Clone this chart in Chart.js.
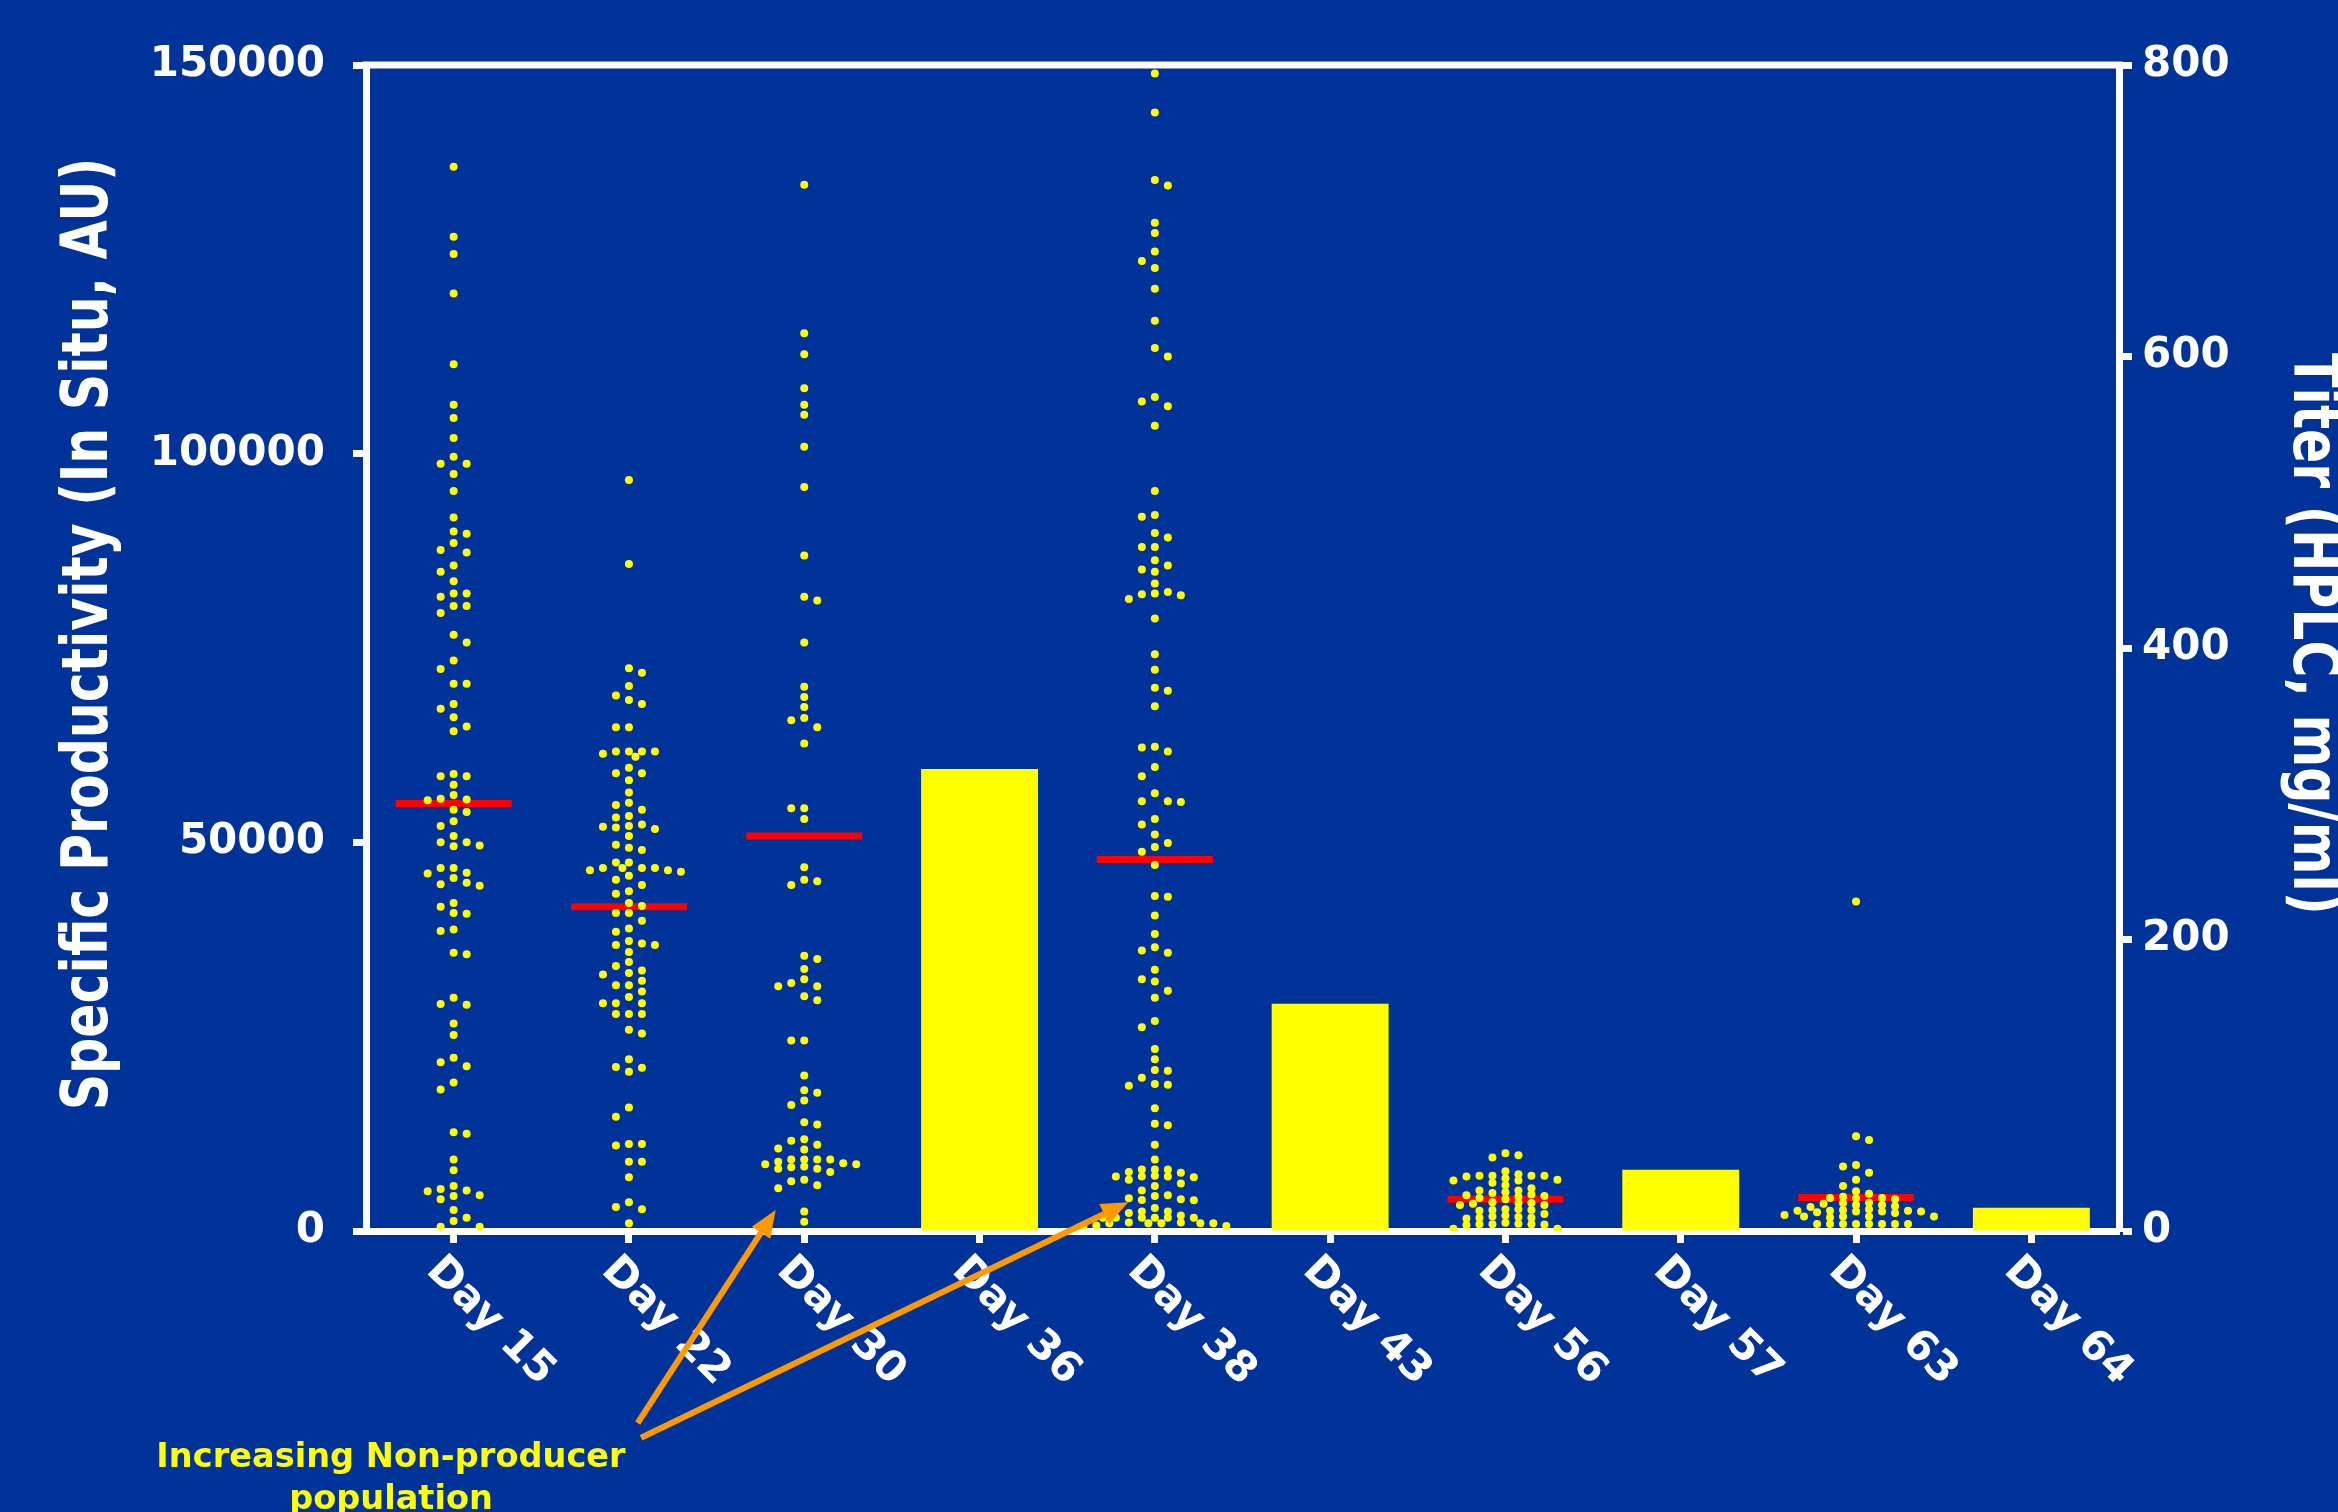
<!DOCTYPE html>
<html>
<head>
<meta charset="utf-8">
<title>Specific productivity and titer by culture day</title>
<script src="https://cdn.jsdelivr.net/npm/chart.js@4.4.1/dist/chart.umd.min.js"></script>
<style>
  html, body { margin: 0; padding: 0; background: #003399; }
  #wrap { width: 2338px; height: 1512px; }
</style>
</head>
<body>
<div id="wrap"><canvas id="chart" width="2338" height="1512"></canvas></div>
<script>
// ---- categories and tick labels ----
const days = ['Day 15', 'Day 22', 'Day 30', 'Day 36', 'Day 38', 'Day 43', 'Day 56', 'Day 57', 'Day 63', 'Day 64'];
const leftTicks = [0, 50000, 100000, 150000];
const rightTicks = [0, 200, 400, 600, 800];

// ---- titer by HPLC (mg/ml), measured on the bar days ----
const titer = [null, null, null, 317, null, 156, null, 42, null, 16];

// ---- specific productivity of single cells (in situ, AU) ----
const day15 = [136900, 127900, 125700, 120600, 111500, 106300, 104600, 102000, 99600, 98700,
  98700, 97400, 95200, 91800, 90000, 89700, 88500, 87600, 87300, 85600,
  84800, 83600, 82000, 82000, 81600, 80400, 80400, 79500, 76700, 75700,
  73400, 72300, 70400, 70400, 67800, 67200, 66100, 64900, 64300, 58800,
  58500, 58500, 57400, 56100, 55600, 55500, 55400, 54200, 53900, 52700,
  52100, 50800, 50000, 50000, 49600, 49500, 46700, 46700, 46100, 46000,
  45400, 44800, 44600, 44400, 42200, 41700, 40900, 40800, 38800, 38600,
  35800, 35600, 30000, 29200, 29100, 26700, 25200, 22300, 21700, 21200,
  19100, 18200, 12700, 12500, 9200, 7800, 5800, 5400, 5200, 5100,
  4600, 4500, 4100, 2700, 1700, 1300, 550, 550];

const day22 = [96600, 85800, 72400, 71800, 70100, 68900, 68300, 67800, 64800, 64800,
  61700, 61700, 61700, 61700, 61400, 61000, 59600, 58900, 58900, 58000,
  56400, 55100, 54800, 54200, 53400, 53200, 52300, 52100, 52000, 51900,
  51700, 50800, 49700, 49300, 49000, 47400, 47400, 46700, 46700, 46700,
  46700, 46400, 46400, 46200, 45700, 45200, 44500, 43700, 43400, 42200,
  41800, 40900, 40900, 39900, 38900, 38500, 37300, 37000, 36800, 36800,
  35900, 34600, 34100, 33500, 33200, 33000, 32200, 31600, 31600, 30800,
  30100, 29300, 29300, 29300, 27900, 27900, 27900, 25900, 25400, 22100,
  21100, 21000, 20500, 15900, 14700, 11200, 11200, 11000, 8900, 8900,
  6900, 3700, 3100, 2800, 1000];

const day30 = [134600, 115500, 112800, 108400, 106300, 105000, 100900, 95700, 86900, 81600,
  81100, 75700, 70000, 68700, 67400, 66000, 65700, 64800, 62700, 54400,
  54400, 53000, 46800, 45200, 45000, 44500, 35400, 35000, 33700, 32400,
  31900, 31500, 31500, 30200, 29700, 24500, 24500, 20000, 18100, 17800,
  16800, 16200, 14000, 13700, 11800, 11600, 11100, 10600, 10500, 9200,
  9200, 9200, 9200, 8900, 8700, 8600, 8600, 8300, 8200, 8000,
  8000, 7600, 6600, 6400, 5900, 5500, 2500, 1200];

const day38 = [148900, 143900, 135200, 134500, 129700, 128400, 126000, 124800, 123900, 121200,
  117100, 113600, 112500, 107300, 106700, 106100, 103600, 95200, 92100, 91900,
  89800, 89200, 88000, 88000, 86300, 85600, 85100, 84800, 83300, 82200,
  82000, 81900, 81800, 81300, 78800, 74200, 72200, 69900, 69500, 67500,
  62300, 62200, 61700, 59700, 58500, 56300, 55300, 55300, 55200, 53000,
  52300, 51000, 49900, 49400, 48800, 47100, 43100, 43000, 40600, 38200,
  36500, 36100, 35800, 33600, 32400, 32100, 30900, 30000, 27000, 26200,
  23400, 22100, 20700, 20600, 19700, 18900, 18800, 18700, 15800, 13800,
  13600, 11100, 9200, 7900, 7900, 7900, 7600, 7500, 7100, 7000,
  7000, 7000, 6900, 6600, 6100, 5800, 5200, 4600, 4500, 4200,
  4100, 4000, 3950, 2950, 2500, 2500, 2300, 2000, 1700, 1700,
  1700, 1700, 1700, 1700, 1100, 1100, 1000, 1000, 1000, 1000,
  1000, 700, 650, 650];

const day56 = [10000, 9750, 9450, 7700, 7300, 7100, 7100, 7100, 7100, 7000,
  6800, 6600, 6500, 6500, 6200, 5900, 5500, 5200, 5200, 5000,
  4900, 4700, 4600, 4500, 4400, 4250, 4100, 3700, 3600, 3600,
  3500, 3350, 3350, 2800, 2800, 2700, 2700, 2600, 2200, 2000,
  1850, 1800, 1700, 1700, 1600, 1070, 940, 860, 860, 860,
  850, 770, 300, 300];

const day63 = [42400, 12200, 11700, 8500, 8300, 7500, 6600, 5800, 5100, 4800,
  4400, 4250, 4250, 4200, 4100, 3650, 3600, 3500, 3350, 3350,
  3200, 3100, 2800, 2700, 2600, 2600, 2600, 2500, 2500, 2500,
  2400, 2300, 2050, 1850, 1850, 1850, 1850, 1750, 900, 900,
  900, 900, 900, 900, 900, 900];

// cell clouds in category order (null where only titer was measured)
const cellsByDay = [day15, day22, day30, null, day38, null, day56, null, day63, null];

// level of the red bar through each cloud
const summaryLevel = [55000, 41700, 50800, null, 47800, null, 4100, null, 4300, null];

// "non-producer" callout: arrow tails and tips as [category position, AU]
const arrowTails = [[1.05, -24700], [1.069, -26600]];
const arrowTips = [[1.837, 2700], [3.849, 3700]];
const calloutLines = ['Increasing Non-producer', 'population'];

// ---- frame geometry ----
const PLOT = { left: 366, right: 2119, top: 65, bottom: 1231 };
const W = 2338, H = 1512;
const SLOT_PX = 13;        // horizontal step between neighbouring dot columns
const LOOSE_GAP_PX = 10;   // vertical clearance in the roomy inner columns
const TIGHT_GAP_PX = 6;    // clearance once a crowded row has to be packed
const LOOSE_REACH = 2;     // roomy placement is tried out to ±2 columns

// Beeswarm: each value (in sorted order) first looks for a roomy whole column
// near the centre; crowded rows then pack into half-columns further out.
function swarmOffsets(values) {
  const pxPerUnit = (PLOT.bottom - PLOT.top) / leftTicks[leftTicks.length - 1];
  const catPx = (PLOT.right - PLOT.left) / days.length;
  const placed = [];
  let side = 1;
  const clash = (x, y, gap) => placed.some(p => {
    const dx = (p.x - x) / SLOT_PX, dy = (p.y - y) / gap;
    return dx * dx + dy * dy < 0.999;
  });
  const take = (s, y, catPx) => {
    placed.push({ x: s * SLOT_PX, y });
    if (s !== 0) side = s > 0 ? -1 : 1;
    return s * SLOT_PX / catPx;
  };
  return values.map(v => {
    const y = v * pxPerUnit;
    for (let k = 0; k <= LOOSE_REACH; k++) {
      for (const s of (k === 0 ? [0] : [side * k, -side * k])) {
        if (!clash(s * SLOT_PX, y, LOOSE_GAP_PX)) return take(s, y, catPx);
      }
    }
    for (let k = 0; k < 160; k++) {
      for (const s of (k === 0 ? [0] : [side * k / 2, -side * k / 2])) {
        if (!clash(s * SLOT_PX, y, TIGHT_GAP_PX)) return take(s, y, catPx);
      }
    }
    return 0;
  });
}

const cellPoints = [];
cellsByDay.forEach((vals, i) => {
  if (!vals) return;
  const offs = swarmOffsets(vals);
  vals.forEach((v, j) => cellPoints.push({ x: i + offs[j], y: v }));
});
const summaryPoints = summaryLevel
  .map((v, i) => (v === null ? null : { x: i, y: v }))
  .filter(p => p !== null);

const FONT = '"DejaVu Sans", Verdana, sans-serif';
Chart.defaults.font.family = FONT;
Chart.defaults.color = '#ffffff';

function drawArrow(ctx, x0, y0, x1, y1) {
  const ang = Math.atan2(y1 - y0, x1 - x0);
  const head = 27, half = 11;
  const bx = x1 - head * Math.cos(ang), by = y1 - head * Math.sin(ang);
  ctx.beginPath();
  ctx.moveTo(x0, y0);
  ctx.lineTo(bx, by);
  ctx.stroke();
  ctx.beginPath();
  ctx.moveTo(x1, y1);
  ctx.lineTo(bx + half * Math.sin(ang), by - half * Math.cos(ang));
  ctx.lineTo(bx - half * Math.sin(ang), by + half * Math.cos(ang));
  ctx.closePath();
  ctx.fill();
}

function drawNarrowTitle(ctx, text, x, y, rot) {
  ctx.save();
  ctx.translate(x, y);
  ctx.rotate(rot);
  ctx.scale(0.79, 1);
  ctx.font = 'bold 64px ' + FONT;
  ctx.textAlign = 'center';
  ctx.textBaseline = 'alphabetic';
  ctx.fillStyle = '#ffffff';
  ctx.fillText(text, 0, 0);
  ctx.restore();
}

const decorations = {
  id: 'decorations',
  afterDraw(chart) {
    const { ctx, chartArea: a, scales } = chart;
    ctx.save();

    // top edge of the frame
    ctx.strokeStyle = '#ffffff';
    ctx.lineWidth = 7;
    ctx.beginPath();
    ctx.moveTo(a.left - 3.5, a.top);
    ctx.lineTo(a.right + 3.5, a.top);
    ctx.stroke();

    // slanted day labels under the axis
    ctx.fillStyle = '#ffffff';
    ctx.font = 'bold 42px ' + FONT;
    ctx.textAlign = 'left';
    ctx.textBaseline = 'middle';
    days.forEach((d, i) => {
      const x = scales.x.getPixelForTick(i);
      ctx.save();
      ctx.translate(x - 21, a.bottom + 33);
      ctx.rotate(Math.PI / 4);
      ctx.fillText(d, 0, 0);
      ctx.restore();
    });

    // axis titles
    const midY = (a.top + a.bottom) / 2 - 14;
    drawNarrowTitle(ctx, 'Specific Productivity (In Situ, AU)', a.left - 259, midY, -Math.PI / 2);
    drawNarrowTitle(ctx, 'Titer (HPLC, mg/ml)', a.right + 175, midY, Math.PI / 2);

    // callout arrows
    ctx.strokeStyle = '#FF9900';
    ctx.fillStyle = '#FF9900';
    ctx.lineWidth = 6;
    ctx.lineCap = 'butt';
    arrowTails.forEach((t, i) => {
      const tip = arrowTips[i];
      drawArrow(ctx,
        scales.xs.getPixelForValue(t[0]), scales.y.getPixelForValue(t[1]),
        scales.xs.getPixelForValue(tip[0]), scales.y.getPixelForValue(tip[1]));
    });

    // callout text
    ctx.fillStyle = '#FFFF00';
    ctx.font = 'bold 33.6px ' + FONT;
    ctx.textAlign = 'center';
    ctx.textBaseline = 'alphabetic';
    calloutLines.forEach((line, i) => {
      ctx.fillText(line, a.left + 25, a.bottom + 236 + i * 42);
    });

    ctx.restore();
  }
};

const tickFont = { family: FONT, weight: 'bold', size: 42 };

new Chart(document.getElementById('chart'), {
  type: 'bar',
  data: {
    labels: days,
    datasets: [
      {
        type: 'bar',
        label: 'Titer (HPLC, mg/ml)',
        data: titer,
        xAxisID: 'x',
        yAxisID: 'y2',
        backgroundColor: '#FFFF00',
        borderWidth: 0,
        grouped: false,
        barPercentage: 0.667,
        categoryPercentage: 1,
        order: 3
      },
      {
        type: 'scatter',
        label: 'Summary level',
        data: summaryPoints,
        xAxisID: 'xs',
        yAxisID: 'y',
        pointStyle: 'line',
        pointRadius: 58,
        pointBorderWidth: 7,
        pointBorderColor: '#FF0000',
        pointBackgroundColor: '#FF0000',
        showLine: false,
        order: 2
      },
      {
        type: 'scatter',
        label: 'Specific productivity (in situ, AU)',
        data: cellPoints,
        xAxisID: 'xs',
        yAxisID: 'y',
        pointStyle: 'circle',
        pointRadius: 4,
        pointBorderWidth: 0,
        pointBackgroundColor: '#FFFF00',
        showLine: false,
        order: 1
      }
    ]
  },
  options: {
    responsive: false,
    devicePixelRatio: 1,
    animation: false,
    events: [],
    layout: { padding: { top: PLOT.top, left: 0, right: 0, bottom: 0 } },
    plugins: { legend: { display: false }, tooltip: { enabled: false } },
    scales: {
      x: {
        type: 'category',
        position: 'bottom',
        offset: true,
        z: 1,
        grid: { display: true, drawOnChartArea: false, drawTicks: true, tickLength: 12, tickWidth: 7, tickColor: '#ffffff', offset: false },
        border: { display: true, color: '#ffffff', width: 7 },
        ticks: { display: false },
        afterFit(s) { s.height = H - PLOT.bottom; }
      },
      xs: {
        type: 'linear',
        display: false,
        min: -0.5,
        max: days.length - 0.5,
        offset: false
      },
      y: {
        type: 'linear',
        position: 'left',
        min: leftTicks[0],
        max: leftTicks[leftTicks.length - 1],
        z: 1,
        afterBuildTicks(s) { s.ticks = leftTicks.map(v => ({ value: v })); },
        ticks: { color: '#ffffff', font: tickFont, padding: 28, callback: v => String(v) },
        grid: { display: true, drawOnChartArea: false, drawTicks: true, tickLength: 13, tickWidth: 7, tickColor: '#ffffff' },
        border: { display: true, color: '#ffffff', width: 7 },
        afterFit(s) { s.width = PLOT.left; }
      },
      y2: {
        type: 'linear',
        position: 'right',
        min: rightTicks[0],
        max: rightTicks[rightTicks.length - 1],
        z: 1,
        afterBuildTicks(s) { s.ticks = rightTicks.map(v => ({ value: v })); },
        ticks: { color: '#ffffff', font: tickFont, padding: 10, callback: v => String(v) },
        grid: { display: true, drawOnChartArea: false, drawTicks: true, tickLength: 13, tickWidth: 7, tickColor: '#ffffff' },
        border: { display: true, color: '#ffffff', width: 7 },
        afterFit(s) { s.width = W - PLOT.right; }
      }
    }
  },
  plugins: [decorations]
});
</script>
</body>
</html>
